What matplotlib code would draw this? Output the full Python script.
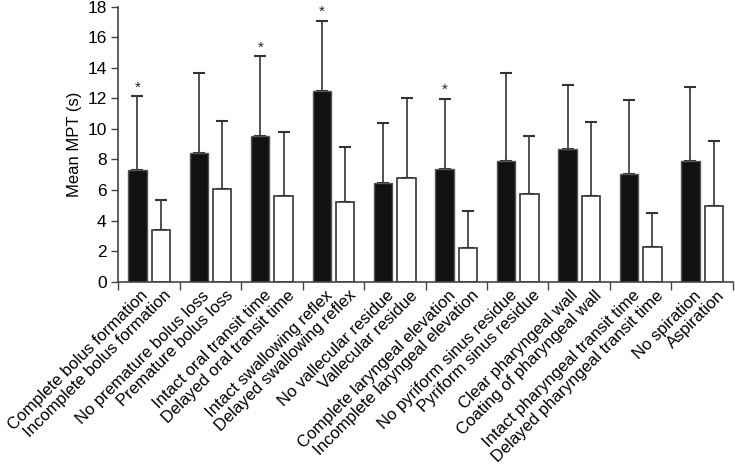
import matplotlib
matplotlib.use("Agg")
import matplotlib.pyplot as plt
import numpy as np

plt.rcParams['font.family'] = ['Liberation Sans', 'DejaVu Sans']

black_labels = ["Complete bolus formation", "No premature bolus loss", "Intact oral transit time",
                "Intact swallowing reflex", "No vallecular residue", "Complete laryngeal elevation",
                "No pyriform sinus residue", "Clear pharyngeal wall", "Intact pharyngeal transit time",
                "No spiration"]
white_labels = ["Incomplete bolus formation", "Premature bolus loss", "Delayed oral transit time",
                "Delayed swallowing reflex", "Vallecular residue", "Incomplete laryngeal elevation",
                "Pyriform sinus residue", "Coating of pharyngeal wall", "Delayed pharyngeal transit time",
                "Aspiration"]
black_mean = [7.29, 8.42, 9.54, 12.48, 6.46, 7.38, 7.88, 8.71, 7.07, 7.88]
black_top = [12.13, 13.68, 14.77, 17.08, 10.37, 11.98, 13.62, 12.87, 11.87, 12.76]
white_mean = [3.38, 6.05, 5.63, 5.24, 6.77, 2.18, 5.74, 5.63, 2.27, 4.93]
white_top = [5.33, 10.52, 9.80, 8.82, 12.04, 4.61, 9.56, 10.47, 4.52, 9.21]
significant = [True, False, True, True, False, True, False, False, False, False]

bm = np.array(black_mean); bt = np.array(black_top)
wm = np.array(white_mean); wt = np.array(white_top)
n = len(bm)
x = np.arange(n)
off = 0.19
w = 0.3

fig = plt.figure(figsize=(7.35, 4.65), dpi=100)
ax = fig.add_axes([0.161, 0.394, 0.836, 0.592])

ax.bar(x - off, bm, width=w, color='#111111', edgecolor='#555555', linewidth=1, zorder=2)
ax.bar(x + off, wm, width=w, color='white', edgecolor='#333333', linewidth=1.2, zorder=2)
ax.errorbar(x - off, bm, yerr=[np.zeros(n), bt - bm], fmt='none', ecolor='#333333',
            elinewidth=1.2, capsize=4, capthick=1.5, zorder=1)
ax.errorbar(x + off, wm, yerr=[np.zeros(n), wt - wm], fmt='none', ecolor='#333333',
            elinewidth=1.2, capsize=4, capthick=1.5, zorder=1)
for i in range(n):
    if significant[i]:
        ax.text(x[i] - off, bt[i] + 0.1, '*', ha='center', va='bottom', fontsize=11, color='#222222')

ax.set_xlim(-0.5, n - 0.5)
ax.set_ylim(0, 18)
ax.set_yticks(np.arange(0, 19, 2))
ax.tick_params(axis='y', labelsize=12.5, direction='out', length=5, width=1, color='#444444')
ax.set_ylabel('Mean MPT (s)', fontsize=12)

ax.set_xticks(np.arange(-0.5, n, 1.0))
ax.set_xticklabels([])
ax.tick_params(axis='x', direction='out', length=6, width=1, color='#444444')

for s in ['top', 'right']:
    ax.spines[s].set_visible(False)
for s in ['left', 'bottom']:
    ax.spines[s].set_color('#444444')
    ax.spines[s].set_linewidth(1.2)

trans = ax.get_xaxis_transform()
for i in range(n):
    for xx, lab in [(x[i] - off, black_labels[i]), (x[i] + off, white_labels[i])]:
        ax.text(xx + 0.05, -0.022, lab, transform=trans, rotation=45, ha='right', va='top',
                rotation_mode='anchor', fontsize=12)

fig.savefig('out.png', dpi=100)
